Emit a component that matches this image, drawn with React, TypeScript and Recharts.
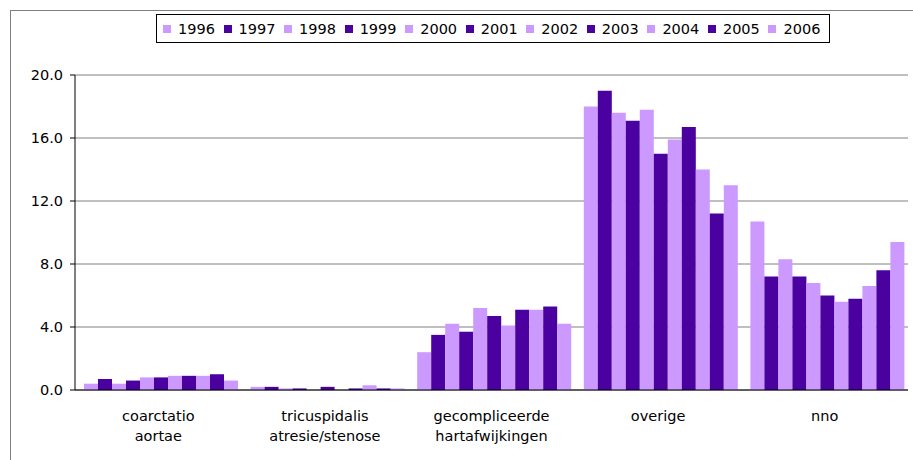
import { Bar, BarChart, CartesianGrid, Legend, XAxis, YAxis } from "recharts";

const FONT = "'DejaVu Sans', Verdana, sans-serif";
const LIGHT = "#cc99ff";
const DARK = "#4b00a0";

// category labels, one entry per line
const categories = [
  ["coarctatio", "aortae"],
  ["tricuspidalis", "atresie/stenose"],
  ["gecompliceerde", "hartafwijkingen"],
  ["overige"],
  ["nno"],
];

const years = [
  "1996", "1997", "1998", "1999", "2000", "2001",
  "2002", "2003", "2004", "2005", "2006",
];

// values per year, in category order
const y1996 = [0.4, 0.2, 2.4, 18.0, 10.7];
const y1997 = [0.7, 0.2, 3.5, 19.0, 7.2];
const y1998 = [0.4, 0.1, 4.2, 17.6, 8.3];
const y1999 = [0.6, 0.1, 3.7, 17.1, 7.2];
const y2000 = [0.8, 0.0, 5.2, 17.8, 6.8];
const y2001 = [0.8, 0.2, 4.7, 15.0, 6.0];
const y2002 = [0.9, 0.0, 4.1, 15.9, 5.6];
const y2003 = [0.9, 0.1, 5.1, 16.7, 5.8];
const y2004 = [0.9, 0.3, 5.1, 14.0, 6.6];
const y2005 = [1.0, 0.1, 5.3, 11.2, 7.6];
const y2006 = [0.6, 0.1, 4.2, 13.0, 9.4];

const seriesValues = [
  y1996, y1997, y1998, y1999, y2000, y2001,
  y2002, y2003, y2004, y2005, y2006,
];

const yTicks = [0, 4, 8, 12, 16, 20];
// category boundaries for the small tick marks under the x axis
const edgeTicks = [0, 1, 2, 3, 4, 5];

const data = categories.map((lines, i) => {
  const row: Record<string, string | number> = { name: lines.join("\n") };
  years.forEach((year, j) => {
    row[year] = seriesValues[j][i];
  });
  return row;
});

function CategoryTick({ x, y, payload }: any) {
  const lines = String(payload.value).split("\n");
  return (
    <text
      x={x}
      y={y}
      textAnchor="middle"
      fill="#000"
      fontSize={14.5}
      fontFamily={FONT}
    >
      {lines.map((line, i) => (
        <tspan key={i} x={x} dy={i === 0 ? 29 : 20}>
          {line}
        </tspan>
      ))}
    </text>
  );
}

function YearLegend({ payload }: any) {
  return (
    <div
      style={{
        boxSizing: "border-box",
        width: 674,
        height: 29,
        border: "1px solid #000",
        background: "#fff",
        display: "flex",
        alignItems: "center",
        paddingLeft: 6,
        fontFamily: FONT,
        fontSize: 14.5,
        color: "#000",
      }}
    >
      {(payload || []).map((entry: any) => (
        <div
          key={entry.value}
          style={{ width: 61.2, display: "flex", alignItems: "center" }}
        >
          <span
            style={{
              display: "inline-block",
              width: 8,
              height: 8,
              background: entry.color,
              marginRight: 7,
            }}
          />
          <span>{entry.value}</span>
        </div>
      ))}
    </div>
  );
}

export default function App() {
  return (
    <div
      style={{
        position: "absolute",
        left: 0,
        top: 0,
        width: 913,
        height: 460,
        overflow: "hidden",
        background: "#fff",
      }}
    >
      <div
        style={{
          position: "absolute",
          left: 10,
          top: 10,
          width: 920,
          height: 470,
          border: "1px solid #7f7f7f",
        }}
      />
      <div style={{ position: "absolute", left: 0, top: 0 }}>
        <BarChart
          width={913}
          height={460}
          data={data}
          margin={{ top: 75, right: 5, bottom: 0, left: 10 }}
          barCategoryGap={9}
          barGap={0}
        >
          <CartesianGrid vertical={false} stroke="#808080" />
          <XAxis
            xAxisId="edge"
            type="number"
            domain={[0, 5]}
            allowDataOverflow
            ticks={edgeTicks}
            height={0}
            axisLine={false}
            tick={false}
            tickLine={{ stroke: "#000" }}
            tickSize={4}
          />
          <XAxis
            dataKey="name"
            height={70}
            interval={0}
            axisLine={{ stroke: "#000" }}
            tickLine={false}
            tickSize={0}
            tick={<CategoryTick />}
          />
          <YAxis
            domain={[0, 20]}
            ticks={yTicks}
            interval={0}
            width={65}
            tickFormatter={(v: number) => v.toFixed(1)}
            axisLine={{ stroke: "#000" }}
            tickLine={{ stroke: "#000" }}
            tickSize={5}
            tickMargin={7}
            tick={{ fill: "#000", fontSize: 14.5, fontFamily: FONT }}
          />
          <Legend
            layout="vertical"
            align="center"
            verticalAlign="middle"
            wrapperStyle={{ top: 14, left: 156 }}
            content={<YearLegend />}
          />
          {years.map((year, i) => (
            <Bar
              key={year}
              dataKey={year}
              fill={i % 2 === 0 ? LIGHT : DARK}
              isAnimationActive={false}
            />
          ))}
        </BarChart>
      </div>
    </div>
  );
}
